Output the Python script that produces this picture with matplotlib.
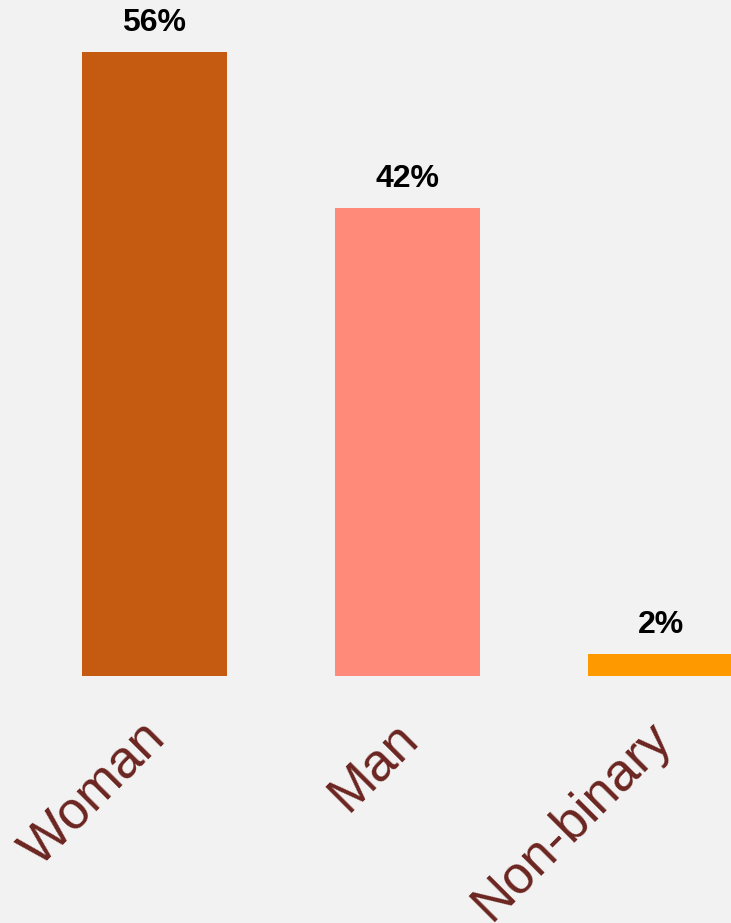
import matplotlib
matplotlib.use("Agg")
import matplotlib.pyplot as plt
import matplotlib.transforms as mtrans

categories = ["Woman", "Man", "Non-binary"]
values = [56, 42, 2]
colors = ["#c55a11", "#ff8a7a", "#ff9900"]

plt.rcParams['font.family'] = ['Liberation Sans', 'DejaVu Sans']

fig = plt.figure(figsize=(7.31, 9.23), dpi=100, facecolor="#f2f2f2")
ax = fig.add_axes([0, (923 - 676) / 923, 1, 676 / 923])
ax.set_facecolor("#f2f2f2")

x = list(range(len(categories)))
bars = ax.bar(x, values, width=145 / 253, color=colors)
ax.set_xlim(-154.5 / 253, (731 - 154.5) / 253)
ax.set_ylim(0, 56 * 676 / 624)

for xi, v in zip(x, values):
    ax.annotate(f"{v}%", (xi, v), xytext=(0, 10), textcoords="offset points",
                ha="center", va="bottom", fontsize=23, fontweight="bold", color="black")

ax.set_xticks(x)
ax.set_xticklabels(categories, rotation=45, ha="right", rotation_mode="anchor",
                   fontsize=38, color="#6b2520")
ax.tick_params(axis="x", length=0, pad=30)
offset = mtrans.ScaledTranslation(-15 / 100, 5 / 100, fig.dpi_scale_trans)
for lbl in ax.get_xticklabels():
    lbl.set_transform(lbl.get_transform() + offset)
ax.set_yticks([])
for s in ax.spines.values():
    s.set_visible(False)

fig.savefig("out.png", dpi=100, facecolor=fig.get_facecolor())
